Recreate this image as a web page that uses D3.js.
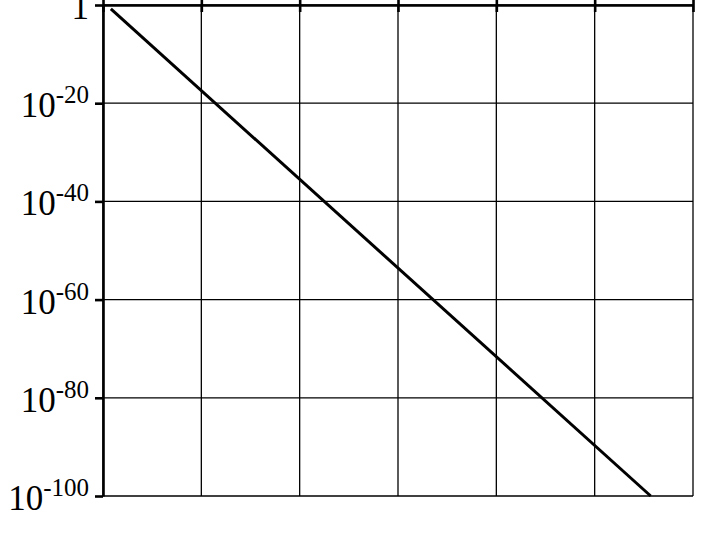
<!DOCTYPE html>
<html>
<head>
<meta charset="utf-8">
<script src="https://cdn.jsdelivr.net/npm/d3@7"></script>
<style>
  body { margin: 0; background: #fff; }
  svg { display: block; font-family: "Liberation Serif", "Times New Roman", serif; }
</style>
</head>
<body>
<svg width="718" height="542"></svg>
<script>
// data
let xGrid = [0, 1, 2, 3, 4, 5, 6];
let yTicks = [1, 1e-20, 1e-40, 1e-60, 1e-80, 1e-100];
let yExponents = ["", "-20", "-40", "-60", "-80", "-100"];
let xValues = [0.08, 5.57];
let yValues = [0.155, 1e-100];

let svg = d3.select("svg"),
    margin = {top: 5, bottom: 46, left: 103, right: 25},
    width = svg.attr("width") - margin.left - margin.right,
    height = svg.attr("height") - margin.top - margin.bottom;

let g = svg.append("g")
    .attr("transform", "translate(" + margin.left + "," + margin.top + ")");

let xScale = d3.scaleLinear()
    .domain([0, 6])
    .range([0, width]);
let yScale = d3.scaleLog()
    .domain([1, 1e-100])
    .range([0, height]);

// vertical grid lines
g.append("g")
    .selectAll("line")
    .data(xGrid)
    .join("line")
    .attr("x1", d => xScale(d))
    .attr("x2", d => xScale(d))
    .attr("y1", 0)
    .attr("y2", height)
    .attr("stroke", "#000")
    .attr("stroke-width", 1.3);

// horizontal grid lines
g.append("g")
    .selectAll("line")
    .data(yTicks)
    .join("line")
    .attr("x1", 0)
    .attr("x2", width)
    .attr("y1", d => yScale(d))
    .attr("y2", d => yScale(d))
    .attr("stroke", "#000")
    .attr("stroke-width", 1.3);

// top axis (ticks crossing the frame)
let topAxis = g.append("g")
    .call(d3.axisTop(xScale).tickValues(xGrid).tickSizeOuter(0).tickFormat(""));
topAxis.select(".domain").attr("stroke-width", 2.6);
topAxis.selectAll(".tick line")
    .attr("y1", -5)
    .attr("y2", 7)
    .attr("stroke-width", 2.6);

// left axis
let leftAxis = g.append("g")
    .call(d3.axisLeft(yScale).tickValues(yTicks).tickSize(8).tickSizeOuter(0).tickFormat(""));
leftAxis.select(".domain").attr("stroke-width", 2.6);
leftAxis.selectAll(".tick line").attr("stroke-width", 2.6);

// tick labels: 1, 10^-20 ...
let labels = g.append("g")
    .selectAll("text")
    .data(yTicks)
    .join("text")
    .attr("x", -14)
    .attr("y", d => yScale(d) + 14)
    .attr("text-anchor", "end")
    .attr("font-size", "35px")
    .attr("fill", "#000");

labels.each(function(d, i) {
    let t = d3.select(this);
    if (yExponents[i] === "") {
        t.text("1");
    } else {
        t.append("tspan").text("10");
        t.append("tspan")
            .attr("font-size", "25px")
            .attr("dy", -14)
            .text(yExponents[i]);
    }
});

// the decaying line
let pathPoints = xValues.map((x, i) => [x, yValues[i]]);
g.append("path")
    .datum(pathPoints)
    .attr("fill", "none")
    .attr("stroke", "#000")
    .attr("stroke-width", 3)
    .attr("d", d3.line()
        .x(d => xScale(d[0]))
        .y(d => yScale(d[1])));
</script>
</body>
</html>
